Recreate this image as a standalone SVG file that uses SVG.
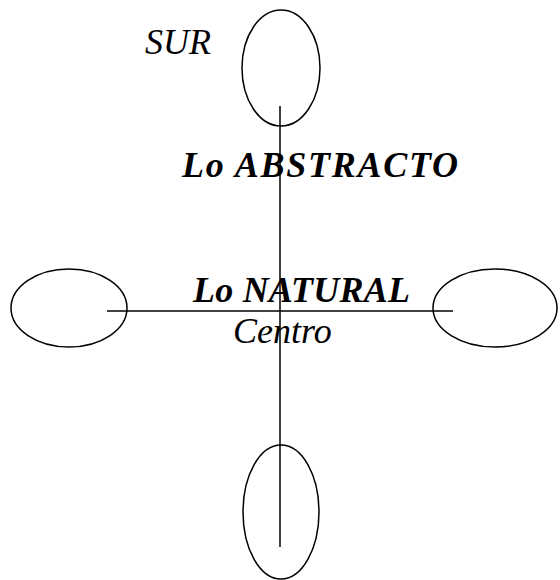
<svg xmlns="http://www.w3.org/2000/svg" width="560" height="580" viewBox="0 0 560 580">
<style>
.n{fill:none;stroke:#000;stroke-width:1.5}
.c{stroke:#000;stroke-width:1.5;fill:none}
text{font-family:"Liberation Serif","Times New Roman",serif;font-style:italic;font-size:36px;fill:#000}
.b{font-weight:bold}
</style>
<rect width="560" height="580" fill="#fff"/>
<g id="top"><ellipse class="n" cx="281" cy="68" rx="39" ry="58"/></g>
<g id="left"><ellipse class="n" cx="69" cy="308" rx="58" ry="39"/></g>
<g id="right"><ellipse class="n" cx="495" cy="308" rx="62" ry="39"/></g>
<g id="bottom"><ellipse class="n" cx="281" cy="512" rx="38" ry="67"/></g>
<g id="connectors">
<line class="c" x1="280" y1="106" x2="280" y2="547"/>
<line class="c" x1="107" y1="311" x2="453" y2="311"/>
</g>
<g id="labels">
<text x="145" y="54">SUR</text>
<text class="b" x="182" y="177" textLength="276" lengthAdjust="spacing">Lo ABSTRACTO</text>
<text class="b" x="193" y="302" textLength="217" lengthAdjust="spacing">Lo NATURAL</text>
<text x="233" y="343">Centro</text>
</g>
</svg>
